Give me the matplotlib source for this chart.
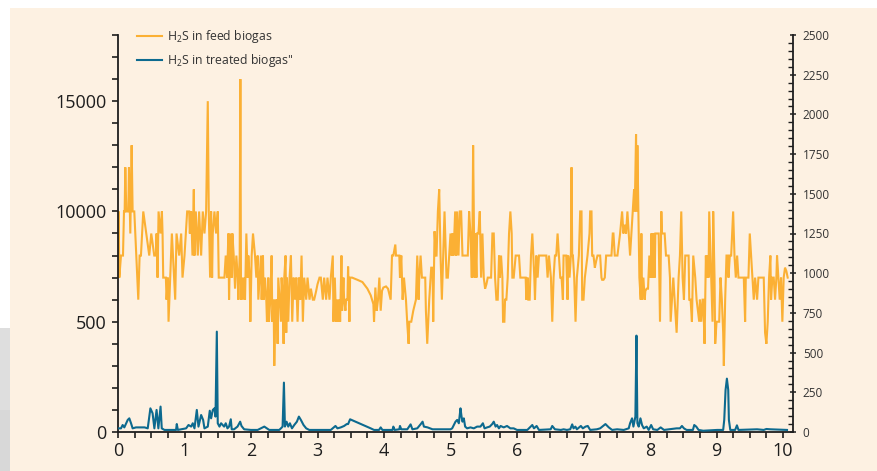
import matplotlib
matplotlib.use("Agg")
import matplotlib.pyplot as plt
from matplotlib.patches import Rectangle
from matplotlib.ticker import MultipleLocator, FixedLocator, FixedFormatter

plt.rcParams['font.family'] = ['Open Sans', 'DejaVu Sans']
plt.rcParams['mathtext.fontset'] = 'custom'
plt.rcParams['mathtext.rm'] = 'Open Sans'
plt.rcParams['mathtext.it'] = 'Open Sans:italic'

# ---- data: H2S in feed biogas (ppm, left axis), x = time axis value ----
feed_a = [(0, 8000), (0.01, 10000), (0.02, 7000), (0.045, 8000), (0.075, 8000), (0.09, 10000), (0.10, 10000),
          (0.11, 12000), (0.125, 10000), (0.155, 10000), (0.165, 12000), (0.185, 9000), (0.205, 13000),
          (0.22, 10000), (0.245, 10000), (0.305, 6000), (0.325, 8000), (0.345, 8000), (0.38, 10000),
          (0.47, 8000), (0.50, 9000), (0.545, 8000), (0.57, 8000), (0.58, 9000), (0.595, 7000), (0.61, 10000),
          (0.64, 9000), (0.66, 10000), (0.67, 9000), (0.68, 7000), (0.72, 7000), (0.73, 6000), (0.75, 7000),
          (0.76, 5000), (0.81, 9000), (0.86, 6000), (0.88, 9000), (0.92, 8000), (0.95, 9000), (0.97, 7000),
          (1.0, 8000), (1.04, 10000), (1.07, 10000), (1.08, 9000), (1.10, 10000), (1.12, 8000), (1.14, 11000),
          (1.15, 8000), (1.17, 10000), (1.20, 8000), (1.22, 10000), (1.25, 8000), (1.275, 10000), (1.30, 9000),
          (1.325, 10000), (1.35, 15000), (1.365, 10000), (1.385, 7000), (1.40, 10000), (1.415, 7000),
          (1.425, 9000), (1.45, 10000), (1.475, 9000), (1.50, 10000), (1.515, 7000), (1.58, 7000)]
feed_b = [(1.60, 7000), (1.62, 8000), (1.64, 7000), (1.66, 9000), (1.67, 6000), (1.69, 9000), (1.71, 7000),
          (1.72, 9000), (1.74, 8000), (1.76, 6500), (1.78, 8000), (1.80, 7000), (1.81, 6000), (1.83, 8000),
          (1.84, 16000), (1.85, 6000), (1.86, 7000), (1.88, 6000), (1.90, 7000), (1.91, 6000), (1.93, 9000),
          (1.95, 7000), (1.96, 8000), (1.98, 7000), (1.99, 5000), (2.01, 8000), (2.03, 9000), (2.06, 8000),
          (2.08, 7000), (2.10, 8000), (2.11, 6000), (2.13, 7000), (2.15, 8000), (2.16, 6000), (2.18, 8000),
          (2.19, 6000), (2.21, 7000), (2.23, 6000), (2.24, 5000), (2.26, 7000), (2.27, 5000), (2.29, 6000),
          (2.31, 8000), (2.32, 5000), (2.34, 6000), (2.35, 3000), (2.37, 6000), (2.38, 5000), (2.39, 6000),
          (2.40, 4000), (2.41, 7000), (2.43, 6000), (2.45, 5000), (2.46, 7000), (2.48, 6000), (2.49, 4000),
          (2.50, 7000), (2.52, 8000), (2.53, 4500), (2.54, 7000), (2.56, 5000), (2.58, 7000), (2.60, 8000),
          (2.62, 5000), (2.64, 7000), (2.66, 6000), (2.68, 7000), (2.70, 5000), (2.72, 7000), (2.74, 6000),
          (2.76, 8000), (2.78, 5000), (2.80, 7000), (2.83, 6000), (2.85, 7000), (2.88, 6000), (2.90, 6500),
          (2.93, 6000), (2.95, 6000), (2.98, 6400), (3.00, 6700), (3.03, 7000), (3.05, 7000), (3.08, 6000),
          (3.10, 7000), (3.13, 6000), (3.15, 7000), (3.18, 6000), (3.20, 7000), (3.23, 8000), (3.24, 5000),
          (3.26, 7000), (3.28, 5000)]
feed_c = [(3.30, 6000), (3.31, 5000), (3.33, 6000), (3.34, 5000), (3.36, 8000), (3.37, 5500), (3.39, 7000),
          (3.40, 6000), (3.42, 5500), (3.43, 6000), (3.45, 6000), (3.46, 7500), (3.48, 5000), (3.49, 7000),
          (3.52, 7000), (3.60, 6900), (3.675, 6800), (3.75, 6500), (3.80, 6200), (3.84, 5800), (3.85, 5000),
          (3.87, 6550), (3.89, 5500), (3.91, 6000), (3.93, 7000), (3.95, 5500), (3.97, 6400), (3.99, 6550),
          (4.03, 6600), (4.06, 6500), (4.08, 6250), (4.10, 6000), (4.12, 8000), (4.14, 8000), (4.17, 8500),
          (4.18, 8000), (4.20, 8000), (4.23, 8000), (4.24, 7000), (4.26, 8000), (4.28, 6000), (4.30, 7000),
          (4.33, 6000), (4.35, 4900), (4.37, 4000), (4.38, 5000), (4.41, 5000), (4.44, 5500), (4.48, 6000),
          (4.50, 8000), (4.52, 6000), (4.53, 7000), (4.55, 8000), (4.57, 7000), (4.59, 7000), (4.62, 7000),
          (4.63, 5500), (4.65, 4000), (4.68, 6000), (4.71, 7450), (4.73, 7450), (4.74, 5000), (4.76, 9100),
          (4.78, 8000), (4.79, 8000), (4.81, 10000), (4.83, 11000), (4.85, 8000), (4.87, 6000), (4.89, 8000),
          (4.91, 10000), (4.94, 7000), (4.96, 7000)]
feed_d = [(5.00, 9000), (5.015, 8000), (5.03, 9000), (5.045, 8000), (5.07, 10000), (5.085, 8000), (5.10, 10000),
          (5.12, 8000), (5.14, 10000), (5.16, 10000), (5.18, 8000), (5.26, 8000), (5.28, 10000), (5.30, 9000),
          (5.32, 7000), (5.33, 9000), (5.34, 13000), (5.36, 7000), (5.37, 9000), (5.39, 7000), (5.40, 9000),
          (5.42, 9000), (5.44, 10000), (5.46, 7000), (5.48, 9000), (5.50, 7000), (5.52, 6500), (5.54, 6700),
          (5.56, 7000), (5.61, 7000), (5.63, 9000), (5.65, 9000), (5.67, 7000), (5.69, 6000), (5.71, 6000),
          (5.73, 8000), (5.74, 7000), (5.76, 8000), (5.78, 7000), (5.79, 5000), (5.81, 5000), (5.82, 6000),
          (5.84, 6000), (5.86, 7000), (5.88, 9000), (5.90, 10000), (5.92, 9000), (5.93, 7000), (5.95, 7000),
          (5.98, 8000), (6.03, 8000), (6.05, 7000), (6.13, 7000), (6.14, 6000), (6.16, 7000), (6.17, 6000),
          (6.19, 6000), (6.21, 8000), (6.23, 9000), (6.26, 7000), (6.27, 6000), (6.29, 8000), (6.31, 7000),
          (6.33, 8000), (6.44, 8000), (6.46, 7000), (6.48, 8000), (6.51, 7000), (6.53, 5000), (6.55, 7000),
          (6.57, 8000), (6.59, 8000), (6.61, 9000), (6.63, 8000), (6.65, 7000), (6.67, 7000), (6.69, 6000)]
feed_e = [(6.70, 8000), (6.74, 8000), (6.76, 6000), (6.77, 8000), (6.79, 7000), (6.81, 8000), (6.82, 12000),
          (6.83, 8000), (6.84, 8000), (6.86, 7000), (6.88, 5000), (6.90, 7000), (6.93, 8000), (6.95, 10000),
          (6.97, 10000), (6.98, 6000), (7.00, 6000), (7.02, 7000), (7.04, 7500), (7.06, 8000), (7.09, 9000),
          (7.10, 10000), (7.12, 10000), (7.13, 8000), (7.15, 8000), (7.17, 7450), (7.19, 7750), (7.21, 8000),
          (7.25, 8000), (7.27, 7000), (7.28, 6900), (7.30, 6900), (7.32, 7000), (7.34, 8000), (7.42, 8000),
          (7.44, 9000), (7.45, 9000), (7.47, 8000), (7.51, 8000), (7.55, 9000), (7.58, 10000), (7.60, 9000),
          (7.62, 9400), (7.64, 9000), (7.66, 10000), (7.68, 9000), (7.70, 8000), (7.72, 9000), (7.74, 10000),
          (7.76, 11000), (7.77, 10000), (7.79, 13500), (7.80, 10000), (7.81, 13000), (7.83, 9000), (7.84, 7000),
          (7.86, 6000), (7.87, 9000), (7.88, 6000), (7.90, 7000), (7.92, 6000), (7.93, 6400), (7.95, 6500),
          (7.97, 6500), (7.99, 8000), (8.01, 7000), (8.02, 9000), (8.04, 7000), (8.05, 9000), (8.07, 7000),
          (8.08, 9000), (8.13, 9000), (8.15, 5000), (8.17, 10000), (8.18, 9000), (8.22, 9000), (8.24, 8000),
          (8.28, 8000), (8.30, 7000), (8.31, 5000), (8.33, 6000), (8.35, 7000), (8.37, 6000)]
feed_f = [(8.40, 4500), (8.43, 7000), (8.45, 8000), (8.47, 10000), (8.49, 7000), (8.51, 6000), (8.53, 8000),
          (8.58, 8000), (8.59, 6000), (8.61, 6000), (8.63, 5000), (8.65, 8000), (8.68, 7000), (8.70, 6000),
          (8.74, 5000), (8.75, 6000), (8.77, 5000), (8.79, 6000), (8.80, 6000), (8.82, 4000), (8.84, 8000),
          (8.85, 7000), (8.87, 8000), (8.88, 7000), (8.89, 10000), (8.90, 9000), (8.92, 7000), (8.94, 5000),
          (8.95, 10000), (8.97, 7000), (8.98, 4000), (9.00, 5000), (9.04, 5000), (9.06, 7000), (9.08, 6000),
          (9.10, 4500), (9.11, 3000), (9.13, 6000), (9.15, 8000), (9.17, 8000), (9.18, 7000), (9.20, 8000),
          (9.22, 8000), (9.25, 10000), (9.27, 8000), (9.29, 7000), (9.31, 8000), (9.33, 7000), (9.41, 7000),
          (9.43, 5000), (9.44, 7000), (9.48, 7000), (9.50, 9000), (9.52, 8000), (9.54, 7000), (9.56, 6000),
          (9.58, 7000), (9.61, 6000), (9.63, 7000), (9.71, 7000), (9.73, 4500), (9.75, 4000), (9.77, 5000),
          (9.79, 7000), (9.81, 8000), (9.82, 6000), (9.84, 7000), (9.86, 7000), (9.88, 6000), (9.90, 7000),
          (9.91, 8000), (9.93, 7000), (9.95, 6000), (9.97, 7000), (9.99, 5000), (10.01, 7000), (10.03, 7450),
          (10.05, 7300), (10.07, 7000)]

# ---- data: H2S in treated biogas (ppm, right axis) ----
treated_a = [(0, 23), (0.045, 23), (0.07, 44), (0.095, 29), (0.146, 76), (0.17, 86), (0.196, 55), (0.22, 23),
             (0.27, 29), (0.40, 29), (0.447, 23), (0.487, 149), (0.52, 118), (0.547, 23), (0.58, 139),
             (0.607, 23), (0.64, 160), (0.658, 23), (0.698, 13), (0.873, 13), (0.884, 50), (0.90, 13),
             (1.024, 23), (1.06, 44), (1.10, 34), (1.124, 55), (1.15, 23), (1.185, 139), (1.21, 34),
             (1.25, 107), (1.28, 76), (1.30, 23), (1.35, 34), (1.38, 134), (1.40, 86), (1.426, 139),
             (1.45, 149), (1.466, 97), (1.486, 632), (1.50, 55), (1.526, 34), (1.55, 55)]
treated_b = [(1.596, 34), (1.62, 55), (1.646, 23), (1.67, 34), (1.696, 80), (1.71, 17), (1.745, 17),
             (1.797, 34), (1.837, 65), (1.857, 38), (1.897, 17), (1.998, 13), (2.10, 13), (2.148, 23),
             (2.20, 34), (2.239, 23), (2.274, 13), (2.425, 13), (2.45, 23), (2.475, 34), (2.495, 311),
             (2.51, 34), (2.535, 65), (2.56, 34), (2.585, 55), (2.616, 23), (2.65, 44), (2.69, 65), (2.72, 97),
             (2.75, 76), (2.79, 44), (2.83, 23), (2.876, 13), (3.0, 13), (3.20, 13), (3.27, 38)]
treated_c = [(3.30, 23), (3.35, 29), (3.40, 38), (3.44, 50), (3.46, 50), (3.49, 80), (3.80, 23), (3.85, 13),
             (3.925, 13), (3.95, 29), (3.976, 13), (4.128, 13), (4.14, 34), (4.16, 13), (4.23, 17), (4.24, 38),
             (4.26, 17), (4.35, 17), (4.40, 48), (4.427, 17), (4.50, 23), (4.553, 50), (4.58, 65), (4.60, 34),
             (4.655, 29), (4.73, 17), (4.854, 17), (4.93, 17)]
treated_d = [(5.0, 17), (5.025, 23), (5.05, 44), (5.075, 65), (5.10, 76), (5.125, 55), (5.15, 149),
             (5.166, 97), (5.18, 65), (5.20, 86), (5.22, 34), (5.25, 23), (5.30, 29), (5.35, 23), (5.40, 34),
             (5.45, 34), (5.487, 55), (5.512, 23), (5.55, 29), (5.59, 34), (5.627, 50), (5.65, 65),
             (5.678, 34), (5.70, 44), (5.728, 23), (5.753, 38), (5.80, 29), (5.85, 38), (5.90, 23),
             (5.95, 23), (6.0, 13), (6.155, 13), (6.205, 34), (6.23, 44), (6.255, 23), (6.295, 38),
             (6.33, 13), (6.506, 17), (6.53, 38), (6.57, 17), (6.66, 13)]
treated_e = [(6.70, 17), (6.75, 13), (6.80, 17), (6.83, 48), (6.85, 23), (6.878, 34), (6.90, 17), (6.96, 38),
             (6.99, 23), (7.03, 34), (7.064, 38), (7.10, 13), (7.20, 17), (7.25, 23), (7.33, 50), (7.38, 29),
             (7.43, 13), (7.505, 17), (7.605, 13), (7.68, 23), (7.70, 55), (7.73, 86), (7.75, 34), (7.78, 97),
             (7.796, 607), (7.81, 55), (7.83, 34), (7.856, 86), (7.88, 44), (7.906, 23), (7.95, 34),
             (7.98, 13), (8.017, 44), (8.047, 17), (8.11, 13), (8.16, 29), (8.21, 13)]
treated_f = [(8.40, 23), (8.45, 23), (8.48, 38), (8.51, 23), (8.55, 13), (8.645, 13), (8.665, 44),
             (8.695, 34), (8.73, 13), (8.80, 8), (9.01, 13), (9.10, 13), (9.116, 76), (9.136, 265),
             (9.156, 336), (9.176, 265), (9.186, 76), (9.207, 13), (9.28, 13), (9.307, 42), (9.33, 13),
             (9.61, 17), (9.71, 13), (9.75, 19), (9.81, 17), (10.06, 13)]

left_ticks = [0, 5000, 10000, 15000]
left_tick_labels = ["0", "500", "10000", "15000"]
x_ticks = list(range(0, 11))
right_ticks = list(range(0, 2501, 250))

label_feed = "H$_2$S in feed biogas"
label_treated = 'H$_2$S in treated biogas"'

# ---- styles ----
CREAM = '#fdf1e2'
ORANGE = '#fbb034'
BLUE = '#0d6a8f'
DARK = '#1e1e1e'

feed = feed_a + feed_b + feed_c + feed_d + feed_e + feed_f
treated = treated_a + treated_b + treated_c + treated_d + treated_e + treated_f
fx, fy = zip(*feed)
tx, ty = zip(*treated)

fig = plt.figure(figsize=(8.77, 4.71), dpi=100)
fig.patch.set_facecolor('white')
W, H = 877, 471
fig.patches.append(Rectangle((10 / W, 0), 1, (H - 8) / H, transform=fig.transFigure,
                             facecolor=CREAM, edgecolor='none', zorder=-10))
fig.patches.append(Rectangle((0, (H - 410) / H), 10 / W, 82 / H, transform=fig.transFigure,
                             facecolor='#dedede', edgecolor='none', zorder=-10))
fig.patches.append(Rectangle((0, 0), 10 / W, (H - 410) / H, transform=fig.transFigure,
                             facecolor='#d8d8d8', edgecolor='none', zorder=-10))

ax = fig.add_axes([118 / W, 39 / H, 675 / W, 397 / H])
ax.set_facecolor('none')
ax.plot(fx, fy, color=ORANGE, lw=1.5, label=label_feed, solid_joinstyle='miter')
ax.set_xlim(0, 10.15)
ax.set_ylim(0, 18000)

ax2 = ax.twinx()
ax2.plot(tx, ty, color=BLUE, lw=1.5, label=label_treated)
ax2.set_ylim(0, 2500)

# spines
for a in (ax, ax2):
    a.spines['top'].set_visible(False)
    for s in ('left', 'right', 'bottom'):
        a.spines[s].set_linewidth(1.3)
        a.spines[s].set_color(DARK)
ax.spines['right'].set_visible(False)
ax2.spines['left'].set_visible(False)
ax2.spines['bottom'].set_visible(False)

# left axis
ax.yaxis.set_major_locator(FixedLocator(left_ticks))
ax.yaxis.set_major_formatter(FixedFormatter(left_tick_labels))
ax.yaxis.set_minor_locator(MultipleLocator(1000))
ax.tick_params(axis='y', which='both', direction='out', length=4.5, width=1.2, color=DARK,
               labelsize=13, labelcolor=DARK, pad=4)
# x axis
ax.xaxis.set_major_locator(FixedLocator(x_ticks))
ax.xaxis.set_minor_locator(MultipleLocator(0.25))
ax.tick_params(axis='x', which='both', direction='out', length=4.5, width=1.2, color=DARK,
               labelsize=13, labelcolor=DARK, pad=3)
# right axis
ax2.yaxis.set_major_locator(FixedLocator(right_ticks))
ax2.yaxis.set_minor_locator(MultipleLocator(50))
ax2.tick_params(axis='y', which='major', direction='inout', length=5, width=1.1, color=DARK,
                labelsize=8.5, labelcolor='#333333', pad=4.5)
ax2.tick_params(axis='y', which='minor', direction='in', length=3.5, width=1.0, color=DARK)

# legend
h1, l1 = ax.get_legend_handles_labels()
h2, l2 = ax2.get_legend_handles_labels()
leg = ax2.legend(h1 + h2, l1 + l2, loc='upper left', bbox_to_anchor=(19 / 675, 1.018),
                 frameon=False, fontsize=8.8, handlelength=2.05, handletextpad=0.4,
                 labelspacing=0.62, borderpad=0, borderaxespad=0)
for t in leg.get_texts():
    t.set_color('#333333')

fig.savefig('out.png', dpi=100, facecolor=fig.get_facecolor())
